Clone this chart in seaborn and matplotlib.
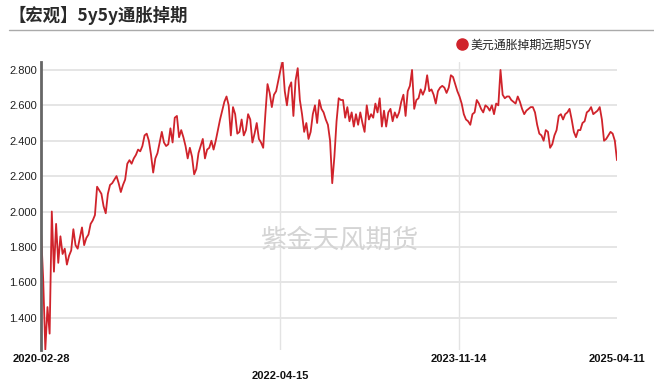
import numpy as np
import pandas as pd
import seaborn as sns
import matplotlib
matplotlib.use("Agg")
import matplotlib.pyplot as plt
from matplotlib.lines import Line2D

# weekly readings of the 5y5y inflation swap forward, 2020-02-28 .. 2025-04-11
start_date = "2020-02-28"
values = [
    1.89, 1.62, 1.22, 1.46, 1.31, 2.00, 1.66, 1.93, 1.71, 1.86,
    1.76, 1.79, 1.70, 1.75, 1.78, 1.90, 1.81, 1.79, 1.85, 1.91,
    1.81, 1.85, 1.87, 1.93, 1.95, 1.98, 2.14, 2.12, 2.10, 2.03,
    1.99, 2.10, 2.15, 2.16, 2.18, 2.20, 2.16, 2.11, 2.15, 2.18,
    2.27, 2.29, 2.27, 2.30, 2.32, 2.35, 2.34, 2.37, 2.43, 2.44,
    2.40, 2.32, 2.22, 2.30, 2.33, 2.39, 2.45, 2.39, 2.37, 2.38,
    2.47, 2.39, 2.53, 2.54, 2.42, 2.46, 2.42, 2.37, 2.30, 2.36,
    2.31, 2.21, 2.24, 2.33, 2.37, 2.41, 2.30, 2.35, 2.36, 2.40,
    2.35, 2.40, 2.46, 2.52, 2.57, 2.62, 2.65, 2.60, 2.43, 2.59,
    2.55, 2.44, 2.45, 2.52, 2.43, 2.46, 2.55, 2.52, 2.39, 2.44,
    2.50, 2.41, 2.39, 2.36, 2.55, 2.72, 2.67, 2.59, 2.66, 2.68,
    2.74, 2.80, 2.85, 2.68, 2.60, 2.70, 2.73, 2.54, 2.74, 2.81,
    2.63, 2.55, 2.45, 2.50, 2.41, 2.45, 2.55, 2.60, 2.50, 2.63,
    2.58, 2.56, 2.52, 2.49, 2.40, 2.16, 2.31, 2.51, 2.64, 2.63,
    2.63, 2.53, 2.59, 2.51, 2.56, 2.48, 2.55, 2.49, 2.56, 2.50,
    2.45, 2.60, 2.52, 2.55, 2.53, 2.61, 2.56, 2.64, 2.48, 2.57,
    2.48, 2.56, 2.58, 2.51, 2.56, 2.53, 2.56, 2.62, 2.66, 2.54,
    2.68, 2.71, 2.80, 2.58, 2.63, 2.64, 2.69, 2.66, 2.69, 2.77,
    2.68, 2.69, 2.66, 2.61, 2.68, 2.70, 2.71, 2.70, 2.67, 2.70,
    2.77, 2.76, 2.72, 2.68, 2.65, 2.61, 2.55, 2.52, 2.51, 2.49,
    2.55, 2.56, 2.63, 2.61, 2.58, 2.56, 2.60, 2.59, 2.57, 2.60,
    2.55, 2.61, 2.60, 2.80, 2.66, 2.64, 2.65, 2.65, 2.63, 2.62,
    2.61, 2.65, 2.62, 2.58, 2.55, 2.57, 2.58, 2.59, 2.59, 2.56,
    2.49, 2.44, 2.43, 2.40, 2.46, 2.45, 2.36, 2.38, 2.43, 2.46,
    2.54, 2.55, 2.52, 2.55, 2.56, 2.58, 2.52, 2.45, 2.42, 2.46,
    2.46, 2.50, 2.51, 2.56, 2.57, 2.59, 2.55, 2.56, 2.57, 2.59,
    2.52, 2.40, 2.41, 2.43, 2.45, 2.44, 2.40, 2.29,
]
dates = pd.date_range(start_date, periods=len(values), freq="7D")

tick_dates = pd.to_datetime(["2020-02-28", "2022-04-15", "2023-11-14", "2025-04-11"])
tick_labels = ["2020-02-28", "\n2022-04-15", "2023-11-14", "2025-04-11"]
y_ticks = [1.4, 1.6, 1.8, 2.0, 2.2, 2.4, 2.6, 2.8]

title = "【宏观】5y5y通胀掉期"
series_name = "美元通胀掉期远期5Y5Y"
watermark = "紫金天风期货"
red = "#d0232b"
grid_c = "#e3e3e3"

sns.set_theme(style="white")
plt.rcParams["font.family"] = ["Noto Sans CJK SC", "DejaVu Sans"]

fig = plt.figure(figsize=(6.54, 3.9), dpi=100)
ax = fig.add_axes([0.0627, 0.1026, 0.8807, 0.7385])

df = pd.DataFrame({"date": dates, "value": values})
sns.lineplot(data=df, x="date", y="value", ax=ax, color=red, linewidth=1.3)

ax.set_ylim(1.2175, 2.845)
ax.set_xlim(tick_dates[0], tick_dates[-1])
ax.set_yticks(y_ticks)
ax.set_yticklabels([f"{v:.3f}" for v in y_ticks], fontsize=8, color="#222222",
                   family=["Liberation Sans", "DejaVu Sans"])
ax.set_xticks(tick_dates)
ax.set_xticklabels(tick_labels, fontsize=8, color="#111111", fontweight="bold",
                   family=["Liberation Sans", "DejaVu Sans"], linespacing=1.9)
ax.tick_params(axis="both", length=0, pad=3)
ax.set_xlabel("")
ax.set_ylabel("")

ax.grid(axis="y", color=grid_c, linewidth=1.3)
ax.grid(axis="x", visible=False)
for d in tick_dates[1:3]:
    ax.axvline(d, color=grid_c, linewidth=1.0, zorder=0)
ax.set_axisbelow(True)

for side in ["top", "right", "bottom"]:
    ax.spines[side].set_visible(False)
ax.spines["left"].set_color("#666666")
ax.spines["left"].set_linewidth(2)

# title and rule
fig.text(9 / 654, 1 - 15 / 390, title, fontsize=12.5, fontweight="bold",
         color="#2a2a2a", va="center", ha="left")
fig.add_artist(Line2D([9 / 654, 1.0], [1 - 30 / 390, 1 - 30 / 390],
                      color="#aaaaaa", linewidth=1))

# legend
handle = Line2D([], [], marker="o", color="none", markerfacecolor=red,
                markeredgecolor=red, markersize=8)
fig.legend(handles=[handle], labels=[series_name], loc="center left",
           bbox_to_anchor=(450 / 654, 1 - 45 / 390), frameon=False,
           fontsize=8.6, handletextpad=0.2, borderpad=0, handlelength=1.0)

# watermark
fig.text(340 / 654, 1 - 240 / 390, watermark, fontsize=19, color="#d4d4d4",
         ha="center", va="center")

fig.savefig("out.png", dpi=100)
